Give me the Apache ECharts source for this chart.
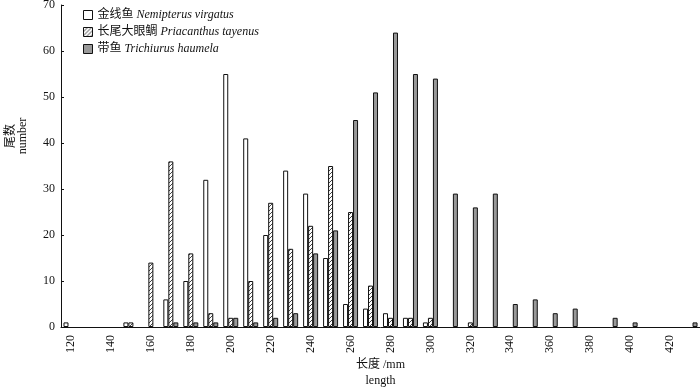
<!DOCTYPE html>
<html><head><meta charset="utf-8">
<script src="https://cdn.jsdelivr.net/npm/echarts@6/dist/echarts.min.js"></script>
<style>html,body{margin:0;padding:0;background:#fff}#c{width:700px;height:389px}</style>
</head><body><div id="c"></div>
<script>
var categories = ['120','130','140','150','160','170','180','190','200','210','220','230','240','250','260','270','280','290','300','310','320','330','340','350','360','370','380','390','400','410','420','430'];
var nemipterus = [1,0,0,1,0,6,10,32,55,41,20,34,29,15,5,4,3,2,1,0,0,0,0,0,0,0,0,0,0,0,0,0];
var priacanthus = [0,0,0,1,14,36,16,3,2,10,27,17,22,35,25,9,2,2,2,0,1,0,0,0,0,0,0,0,0,0,0,0];
var trichiurus = [0,0,0,0,0,1,1,1,2,1,2,3,16,21,45,51,64,55,54,29,26,29,5,6,3,4,0,2,1,0,0,1];
var seriesNames = ['金线鱼', '长尾大眼鲷', '带鱼'];
var latinNames = ['Nemipterus virgatus', 'Priacanthus tayenus', 'Trichiurus haumela'];
var yTitle = ['尾数', 'number'];
var xTitle = ['长度 /mm', 'length'];

var pc = document.createElement('canvas');
pc.width = 4; pc.height = 4;
var g = pc.getContext('2d');
g.fillStyle = '#ffffff'; g.fillRect(0,0,4,4);
g.strokeStyle = '#444'; g.lineWidth = 1;
g.beginPath(); g.moveTo(0,4); g.lineTo(4,0); g.stroke();
g.beginPath(); g.moveTo(-1,1); g.lineTo(1,-1); g.stroke();
g.beginPath(); g.moveTo(3,5); g.lineTo(5,3); g.stroke();
var hatch = {image: pc, repeat: 'repeat'};

var serif = '"Liberation Serif","DejaVu Serif","Noto Sans CJK SC",serif';
var chart = echarts.init(document.getElementById('c'));
var data = [nemipterus, priacanthus, trichiurus];
var colors = ['#ffffff', hatch, '#999999'];
var series = data.map(function(d, i){
  return {
    name: seriesNames[i], type: 'bar',
    data: d.map(function(v){ return v === 0 ? '-' : v; }),
    barWidth: 5, barGap: '0%',
    itemStyle: {color: colors[i], borderColor: '#111', borderWidth: 1},
    emphasis: {disabled: true}
  };
});
chart.setOption({
  animation: false,
  textStyle: {fontFamily: serif},
  legend: {
    left: 78, top: 4, orient: 'vertical', itemWidth: 9, itemHeight: 9, itemGap: 5,
    icon: 'rect',
    data: seriesNames,
    formatter: function(n){ var i = seriesNames.indexOf(n); return n + ' {it|' + latinNames[i] + '}'; },
    textStyle: {fontFamily: serif, fontSize: 12, color: '#111', rich: {it: {fontStyle: 'italic', fontFamily: serif, fontSize: 12, color: '#111'}}},
    itemStyle: {borderColor: '#111', borderWidth: 1}
  },
  graphic: [{
    type: 'text', x: 17, y: 136, rotation: Math.PI / 2,
    style: {text: yTitle.join('\n'), fontFamily: serif, fontSize: 12, fill: '#111', align: 'center', verticalAlign: 'middle', lineHeight: 12}
  }],
  grid: {left: 61, right: 0, top: 5, bottom: 62, outerBoundsMode: 'none', containLabel: false},
  xAxis: {
    type: 'category', data: categories,
    name: xTitle.join('\n'), nameLocation: 'middle', nameGap: 30, nameMoveOverlap: false,
    nameTextStyle: {fontFamily: serif, fontSize: 12, color: '#111', lineHeight: 16},
    axisLine: {lineStyle: {color: '#111', width: 1}},
    axisTick: {show: false},
    axisLabel: {interval: 1, rotate: 90, fontFamily: serif, fontSize: 12, color: '#111', margin: 8}
  },
  yAxis: {
    type: 'value', min: 0, max: 70, interval: 10,
    axisLine: {show: true, lineStyle: {color: '#111', width: 1}},
    axisTick: {show: true, inside: true, length: 3, lineStyle: {color: '#111'}},
    splitLine: {show: false},
    axisLabel: {fontFamily: serif, fontSize: 12, color: '#111', margin: 6}
  },
  series: series
});
</script></body></html>
